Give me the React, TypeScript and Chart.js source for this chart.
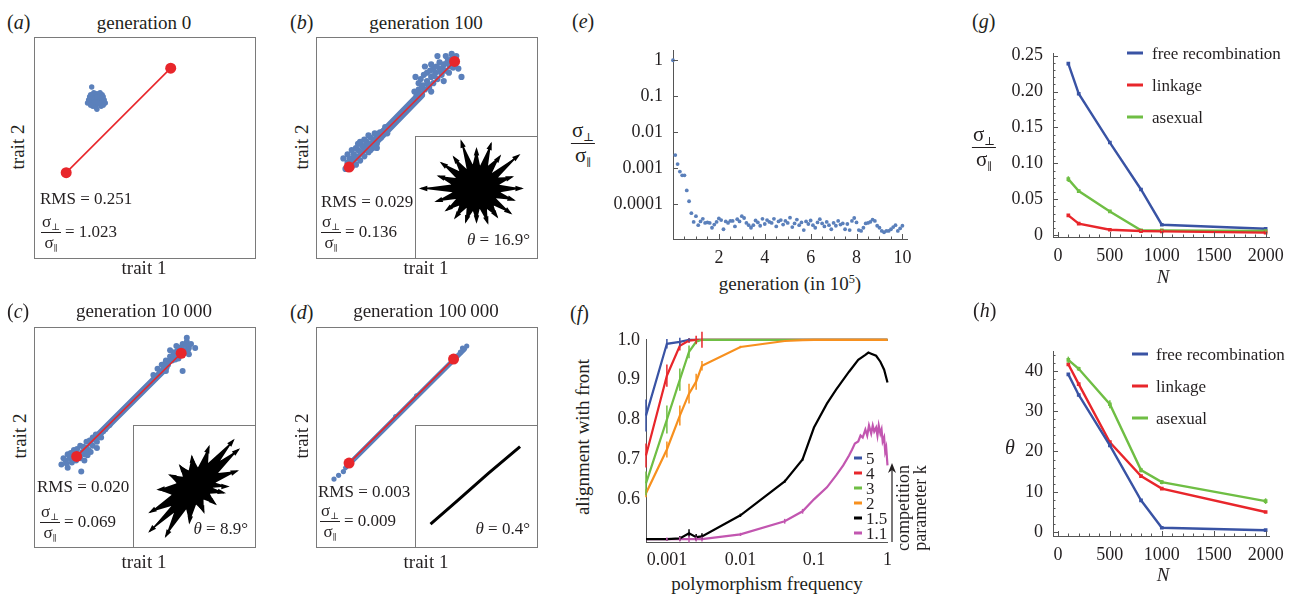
import React, { useEffect, useRef } from "react";
import { Chart, registerables } from "chart.js";
Chart.register(...registerables);

const SERIF = "'Liberation Serif', 'Times New Roman', 'DejaVu Serif', serif";
const INK = "#231f20";
const DOT_BLUE = "#5b80bb";
const RED = "#e8262b";
const BLUE = "#3953a4";
const GREEN = "#6fbe44";
const ORANGE = "#f7901e";
const BLACK = "#000000";
const MAGENTA = "#c256b0";

// ---------- panels a-d (trait space) ----------
const redA = [[0.123, 0.382], [0.623, 0.882]];
const cloudA = [[0.268,0.727],[0.25,0.73],[0.285,0.73],[0.26,0.71],[0.28,0.71],[0.255,0.745],[0.28,0.745],[0.24,0.72],[0.295,0.72],[0.245,0.74],[0.29,0.74],[0.27,0.76],[0.265,0.695],[0.23,0.73],[0.305,0.73],[0.25,0.70],[0.29,0.70],[0.24,0.755],[0.295,0.755],[0.27,0.745],[0.26,0.72],[0.275,0.715],[0.225,0.715],[0.31,0.715],[0.255,0.765],[0.285,0.765],[0.27,0.685],[0.235,0.745],[0.30,0.745],[0.24,0.705],[0.30,0.705],[0.245,0.792]];

const redB = [[0.127, 0.409], [0.632, 0.914]];
const bandB = [[0.25, 0.53], [0.47, 0.755]];
const cloudB = [[0.11,0.40],[0.12,0.43],[0.14,0.41],[0.13,0.45],[0.15,0.44],[0.16,0.42],[0.15,0.47],[0.17,0.46],[0.18,0.44],[0.17,0.49],[0.19,0.48],[0.20,0.46],[0.19,0.51],[0.21,0.50],[0.22,0.48],[0.21,0.53],[0.23,0.52],[0.24,0.50],[0.23,0.55],[0.25,0.54],[0.26,0.52],[0.25,0.57],[0.27,0.56],[0.28,0.55],[0.14,0.49],[0.12,0.47],[0.29,0.58],[0.20,0.54],[0.17,0.52],[0.26,0.50],[0.10,0.45],[0.31,0.57],[0.155,0.455],[0.185,0.475],[0.215,0.515],[0.245,0.525],[0.275,0.575],[0.16,0.50],[0.20,0.49],[0.23,0.49],[0.18,0.53],[0.22,0.56],[0.135,0.43],[0.30,0.60],[0.32,0.60],
  [0.45,0.75],[0.46,0.78],[0.47,0.76],[0.48,0.80],[0.49,0.78],[0.50,0.82],[0.51,0.79],[0.52,0.84],[0.53,0.81],[0.54,0.86],[0.55,0.83],[0.56,0.88],[0.57,0.85],[0.58,0.90],[0.59,0.87],[0.60,0.92],[0.61,0.89],[0.62,0.93],[0.63,0.90],[0.50,0.86],[0.53,0.88],[0.56,0.91],[0.47,0.83],[0.59,0.94],[0.64,0.94],[0.52,0.77],[0.58,0.82],[0.445,0.84],[0.618,0.95],[0.665,0.84],[0.65,0.88],[0.55,0.94],[0.49,0.89],[0.485,0.85],[0.515,0.87],[0.545,0.89],[0.575,0.88],[0.605,0.86],[0.535,0.845],[0.565,0.865],[0.595,0.905],[0.505,0.805],[0.475,0.79],[0.625,0.885],[0.52,0.90],[0.46,0.81],[0.44,0.77]];

const redC = [[0.173, 0.409], [0.673, 0.905]];
const bandC = [[0.27, 0.505], [0.60, 0.835]];
const cloudC = [[0.10,0.37],[0.13,0.355],[0.195,0.336],[0.12,0.39],[0.14,0.40],[0.15,0.38],[0.16,0.41],[0.17,0.39],[0.18,0.42],[0.19,0.40],[0.20,0.43],[0.21,0.42],[0.22,0.45],[0.23,0.44],[0.24,0.47],[0.25,0.46],[0.26,0.49],[0.27,0.48],[0.28,0.51],[0.29,0.50],[0.30,0.53],[0.16,0.44],[0.19,0.46],[0.22,0.48],[0.25,0.50],[0.13,0.42],[0.21,0.39],[0.24,0.43],[0.27,0.45],[0.11,0.40],[0.145,0.425],[0.175,0.445],[0.205,0.455],[0.235,0.485],[0.185,0.405],[0.215,0.435],[0.155,0.395],[0.265,0.515],[0.225,0.415],[0.125,0.375],[0.31,0.54],[0.33,0.56],
  [0.56,0.83],[0.57,0.81],[0.58,0.85],[0.59,0.83],[0.60,0.87],[0.61,0.85],[0.62,0.89],[0.63,0.87],[0.64,0.91],[0.65,0.89],[0.66,0.93],[0.67,0.91],[0.68,0.95],[0.69,0.92],[0.70,0.96],[0.71,0.93],[0.62,0.92],[0.65,0.94],[0.68,0.82],[0.71,0.90],[0.72,0.95],[0.60,0.82],[0.66,0.88],[0.70,0.98],[0.74,0.93],[0.635,0.895],[0.655,0.915],[0.675,0.935],[0.695,0.945],[0.615,0.865],[0.595,0.855],[0.645,0.875],[0.685,0.905],[0.705,0.92],[0.54,0.80],[0.55,0.785]];

const redD = [[0.127, 0.377], [0.627, 0.877]];
const bandD = [[0.11, 0.355], [0.40, 0.645], [0.68, 0.925]];
const cloudD = [[0.055,0.30],[0.077,0.318],[0.10,0.336],[0.64,0.89],[0.66,0.91],[0.67,0.93],[0.69,0.94],[0.35,0.60],[0.45,0.70]];

// inset arrow bursts (tips of the selection-gradient arrows)
const burstCenterB = [0.0, 0.15];
const burstB = [[0.75,0.15],[0.375,0.21],[0.59,0.34],[0.356,0.33],[0.70,0.70],[0.255,0.405],[0.388,0.684],[0.19,0.524],[0.241,0.892],[0.059,0.525],[0.0,0.80],[-0.063,0.545],[-0.253,0.93],[-0.163,0.471],[-0.376,0.668],[-0.283,0.433],[-0.582,0.573],[-0.339,0.323],[-0.628,0.354],[-0.415,0.216],[-0.92,0.15],[-0.395,0.087],[-0.666,-0.066],[-0.339,-0.023],[-0.502,-0.214],[-0.283,-0.133],[-0.353,-0.335],[-0.163,-0.171],[-0.179,-0.402],[-0.059,-0.225],[0.0,-0.40],[0.053,-0.186],[0.185,-0.421],[0.173,-0.189],[0.341,-0.319],[0.283,-0.133],[0.566,-0.261],[0.321,-0.013],[0.62,-0.042],[0.395,0.087]];
const burstCenterC = [0.0, 0.0];
const burstC = [[0.55,0.0],[0.345,0.061],[0.705,0.257],[0.39,0.225],[0.728,0.611],[0.424,0.424],[0.643,0.766],[0.225,0.39],[0.239,0.658],[0.056,0.315],[-0.044,0.498],[-0.096,0.263],[-0.241,0.344],[-0.192,0.161],[-0.408,0.19],[-0.295,0.052],[-0.598,-0.052],[-0.376,-0.137],[-0.736,-0.425],[-0.383,-0.321],[-0.742,-0.742],[-0.339,-0.433],[-0.475,-0.823],[-0.137,-0.376],[-0.084,-0.594],[0.026,-0.299],[0.154,-0.423],[0.149,-0.213],[0.345,-0.289],[0.254,-0.118],[0.489,-0.104],[0.299,-0.021]];
const lineD = [[-0.76, -0.62], [-0.3, -0.22], [0.2, 0.22], [0.72, 0.66]];

// ---------- panel e ----------
const genE = [0,0.1,0.2,0.3,0.4,0.5,0.6,0.7,0.8,0.9,1.0,1.1,1.2,1.3,1.4,1.5,1.6,1.7,1.8,1.9,2.0,2.1,2.2,2.3,2.4,2.5,2.6,2.7,2.8,2.9,3.0,3.1,3.2,3.3,3.4,3.5,3.6,3.7,3.8,3.9,4.0,4.1,4.2,4.3,4.4,4.5,4.6,4.7,4.8,4.9,5.0,5.1,5.2,5.3,5.4,5.5,5.6,5.7,5.8,5.9,6.0,6.1,6.2,6.3,6.4,6.5,6.6,6.7,6.8,6.9,7.0,7.1,7.2,7.3,7.4,7.5,7.6,7.7,7.8,7.9,8.0,8.1,8.2,8.3,8.4,8.5,8.6,8.7,8.8,8.9,9.0,9.1,9.2,9.3,9.4,9.5,9.6,9.7,9.8,9.9,10.0];
const ratioE = [1,2.3e-3,1.3e-3,8.0e-4,6.3e-4,6.3e-4,2.4e-4,1.2e-4,5.6e-5,3.2e-5,4.6e-5,2.6e-5,3.3e-5,3.9e-5,3.0e-5,3.1e-5,3.0e-5,2.2e-5,2.7e-5,3.2e-5,4.0e-5,3.6e-5,2.0e-5,3.3e-5,3.0e-5,3.4e-5,3.4e-5,2.4e-5,3.8e-5,3.3e-5,4.6e-5,4.1e-5,3.0e-5,2.6e-5,2.2e-5,2.6e-5,3.5e-5,3.1e-5,2.5e-5,3.9e-5,2.8e-5,3.6e-5,3.2e-5,3.0e-5,3.9e-5,2.4e-5,3.3e-5,3.6e-5,2.7e-5,3.4e-5,3.0e-5,4.2e-5,2.3e-5,2.9e-5,3.7e-5,2.6e-5,3.1e-5,1.9e-5,3.3e-5,2.8e-5,3.5e-5,2.6e-5,2.2e-5,3.1e-5,3.8e-5,2.9e-5,2.4e-5,3.2e-5,2.6e-5,2.0e-5,3.0e-5,2.5e-5,3.4e-5,2.7e-5,2.9e-5,2.0e-5,2.8e-5,1.9e-5,3.4e-5,4.1e-5,3.1e-5,1.9e-5,1.8e-5,2.2e-5,2.9e-5,3.0e-5,3.2e-5,3.7e-5,3.4e-5,2.5e-5,2.2e-5,1.8e-5,1.65e-5,1.8e-5,1.8e-5,2.0e-5,2.3e-5,2.6e-5,1.8e-5,2.1e-5,2.5e-5];
const yTicksE = [1, 0.1, 0.01, 0.001, 0.0001];
const yLabelsE = ["1", "0.1", "0.01", "0.001", "0.0001"];
const xTicksE = [2, 4, 6, 8, 10];
const xLabelsE = ["2", "4", "6", "8", "10"];
const xMinorE = [0.5, 1, 1.5, 2.5, 3, 3.5, 4.5, 5, 5.5, 6.5, 7, 7.5, 8.5, 9, 9.5];

// ---------- panel f ----------
const freqF = [0.00052, 0.001, 0.0015, 0.002, 0.0025, 0.003, 0.01, 0.04, 0.07, 0.1, 0.2, 0.3, 0.5, 0.7, 1];
const k5 = [0.81, 0.99, 0.995, 1.0, 1.0, 1.0, 1.0, 1.0, 1.0, 1.0, 1.0, 1.0, 1.0, 1.0, 1.0];
const k5err = [0.04, 0.012, 0.01, 0.004, 0, 0, 0, 0, 0, 0, 0, 0, 0, 0, 0];
const k4 = [0.71, 0.91, 0.985, 0.998, 1.0, 1.0, 1.0, 1.0, 1.0, 1.0, 1.0, 1.0, 1.0, 1.0, 1.0];
const k4err = [0.03, 0.028, 0.012, 0.006, 0.01, 0.02, 0, 0, 0, 0, 0, 0, 0, 0, 0];
const k3 = [0.64, 0.80, 0.90, 0.97, 0.995, 1.0, 1.0, 1.0, 1.0, 1.0, 1.0, 1.0, 1.0, 1.0, 1.0];
const k3err = [0.03, 0.035, 0.028, 0.016, 0.006, 0, 0, 0, 0, 0, 0, 0, 0, 0, 0];
const k2 = [0.615, 0.725, 0.81, 0.865, 0.895, 0.935, 0.982, 0.997, 0.999, 1.0, 1.0, 1.0, 1.0, 1.0, 1.0];
const k2err = [0.01, 0.02, 0.025, 0.025, 0.02, 0.012, 0.003, 0.002, 0, 0, 0, 0, 0, 0, 0];
const freqBlack = [0.00052, 0.001, 0.0015, 0.002, 0.0025, 0.003, 0.01, 0.04, 0.07, 0.1, 0.15, 0.2, 0.3, 0.4, 0.5, 0.55, 0.6, 0.7, 0.8, 0.9, 1];
const k15 = [0.50, 0.50, 0.502, 0.515, 0.505, 0.507, 0.56, 0.645, 0.70, 0.78, 0.84, 0.875, 0.92, 0.95, 0.962, 0.968, 0.965, 0.96, 0.945, 0.925, 0.893];
const k15err = [0, 0.003, 0.006, 0.01, 0.008, 0.008, 0.004, 0.004, 0.004, 0, 0, 0, 0, 0, 0, 0, 0, 0, 0, 0, 0];
const freqMag = [0.00052, 0.001, 0.0015, 0.002, 0.0025, 0.003, 0.01, 0.04, 0.07, 0.1, 0.15, 0.2, 0.25, 0.3, 0.33, 0.36, 0.4, 0.43, 0.46, 0.5, 0.53, 0.56, 0.6, 0.63, 0.66, 0.7, 0.73, 0.76, 0.8, 0.83, 0.86, 0.9, 0.93, 0.96, 1.0];
const k11 = [0.50, 0.50, 0.50, 0.50, 0.50, 0.50, 0.512, 0.545, 0.57, 0.60, 0.63, 0.66, 0.685, 0.71, 0.725, 0.74, 0.745, 0.76, 0.755, 0.775, 0.76, 0.785, 0.765, 0.785, 0.77, 0.78, 0.76, 0.785, 0.765, 0.775, 0.745, 0.755, 0.72, 0.73, 0.685];
const k11err = [0, 0.004, 0.006, 0.008, 0.006, 0.006, 0.004, 0.006, 0.006, 0, 0, 0, 0, 0, 0, 0, 0, 0, 0, 0, 0, 0, 0, 0, 0, 0, 0, 0, 0, 0, 0, 0, 0, 0, 0];
const legendLabelsF = ["5", "4", "3", "2", "1.5", "1.1"];
const xTicksF = [0.001, 0.01, 0.1, 1];
const xLabelsF = ["0.001", "0.01", "0.1", "1"];
const yTicksF = [0.6, 0.7, 0.8, 0.9, 1.0];
const yLabelsF = ["0.6", "0.7", "0.8", "0.9", "1.0"];

// ---------- panels g, h ----------
const popN = [100, 200, 500, 800, 1000, 2000];
const gFree = [0.239, 0.197, 0.129, 0.0636, 0.0145, 0.0088];
const gLink = [0.0276, 0.016, 0.0075, 0.0057, 0.0053, 0.0035];
const gAsex = [0.078, 0.0614, 0.033, 0.0066, 0.0066, 0.0057];
const gAsexErr = [0.004, 0.002, 0.0015, 0.001, 0.001, 0.001];
const hFree = [39.1, 34.0, 21.5, 7.9, 1.1, 0.5];
const hLink = [41.6, 36.7, 22.3, 13.9, 10.8, 5.0];
const hAsex = [42.7, 40.5, 31.7, 15.4, 12.4, 7.7];
const hAsexErr = [0.8, 0.5, 1.0, 0.6, 0.5, 0.7];
const legendGH = ["free recombination", "linkage", "asexual"];
const xTicksN = [0, 500, 1000, 1500, 2000];
const xLabelsN = ["0", "500", "1000", "1500", "2000"];
const xMinorN = [100, 200, 300, 400, 600, 700, 800, 900, 1100, 1200, 1300, 1400, 1600, 1700, 1800, 1900];
const yTicksG = [0, 0.05, 0.1, 0.15, 0.2, 0.25];
const yLabelsG = ["0", "0.05", "0.10", "0.15", "0.20", "0.25"];
const yMinorG = [0.01, 0.02, 0.03, 0.04, 0.06, 0.07, 0.08, 0.09, 0.11, 0.12, 0.13, 0.14, 0.16, 0.17, 0.18, 0.19, 0.21, 0.22, 0.23, 0.24];
const yTicksH = [0, 10, 20, 30, 40];
const yLabelsH = ["0", "10", "20", "30", "40"];
const yMinorH = [2, 4, 6, 8, 12, 14, 16, 18, 22, 24, 26, 28, 32, 34, 36, 38, 42, 44];

// ---------- helpers ----------
const toXY = (p: number[]) => ({ x: p[0], y: p[1] });
const zipXY = (xs: number[], ys: number[]) => xs.map((x, i) => ({ x, y: ys[i] }));

const extrasPlugin = {
  id: "extras",
  beforeDatasetsDraw(chart: any) {
    const ctx = chart.ctx;
    const xs = chart.scales.x, ys = chart.scales.y;
    chart.data.datasets.forEach((ds: any) => {
      if (!ds.burst) return;
      const pts = ds.data.map((p: any) => [xs.getPixelForValue(p.x), ys.getPixelForValue(p.y)]);
      const cx = xs.getPixelForValue(ds.burst[0]);
      const cy = ys.getPixelForValue(ds.burst[1]);
      ctx.save();
      ctx.fillStyle = "#000";
      ctx.strokeStyle = "#000";
      ctx.beginPath();
      pts.forEach((p: number[], i: number) => (i ? ctx.lineTo(p[0], p[1]) : ctx.moveTo(p[0], p[1])));
      ctx.closePath();
      ctx.fill();
      ctx.lineWidth = 1.2;
      const n = pts.length;
      pts.forEach((p: number[], i: number) => {
        ctx.beginPath();
        ctx.moveTo(cx, cy);
        ctx.lineTo(p[0], p[1]);
        ctx.stroke();
        const d = Math.hypot(p[0] - cx, p[1] - cy);
        const a = pts[(i - 1 + n) % n], b = pts[(i + 1) % n];
        if (d > Math.hypot(a[0] - cx, a[1] - cy) && d > Math.hypot(b[0] - cx, b[1] - cy)) {
          const ang = Math.atan2(p[1] - cy, p[0] - cx);
          const L = 7, W = 0.4;
          ctx.beginPath();
          ctx.moveTo(p[0] + Math.cos(ang) * 2, p[1] + Math.sin(ang) * 2);
          ctx.lineTo(p[0] - L * Math.cos(ang - W), p[1] - L * Math.sin(ang - W));
          ctx.lineTo(p[0] - L * Math.cos(ang + W), p[1] - L * Math.sin(ang + W));
          ctx.closePath();
          ctx.fill();
        }
      });
      ctx.restore();
    });
  },
  afterDatasetsDraw(chart: any) {
    const ctx = chart.ctx;
    const ys = chart.scales.y;
    chart.data.datasets.forEach((ds: any, i: number) => {
      if (!ds.errors) return;
      const meta = chart.getDatasetMeta(i);
      ctx.save();
      ctx.strokeStyle = ds.borderColor;
      ctx.lineWidth = 1.5;
      meta.data.forEach((el: any, j: number) => {
        const e = ds.errors[j];
        if (!e) return;
        const v = ds.data[j].y;
        ctx.beginPath();
        ctx.moveTo(el.x, ys.getPixelForValue(v - e));
        ctx.lineTo(el.x, ys.getPixelForValue(v + e));
        ctx.stroke();
      });
      ctx.restore();
    });
  },
};

// small inward tick marks (Mathematica style)
const innerTicksPlugin = {
  id: "innerTicks",
  afterDraw(chart: any, _args: any, opts: any) {
    if (!opts || !opts.x) return;
    const ctx = chart.ctx;
    const a = chart.chartArea;
    const xs = chart.scales.x, ys = chart.scales.y;
    ctx.save();
    ctx.strokeStyle = "#555";
    ctx.lineWidth = 1;
    const mark = (vals: number[], len: number, isX: boolean) => {
      (vals || []).forEach((v) => {
        ctx.beginPath();
        if (isX) {
          const x = Math.round(xs.getPixelForValue(v)) + 0.5;
          ctx.moveTo(x, a.bottom);
          ctx.lineTo(x, a.bottom - len);
        } else {
          const y = Math.round(ys.getPixelForValue(v)) + 0.5;
          ctx.moveTo(a.left, y);
          ctx.lineTo(a.left + len, y);
        }
        ctx.stroke();
      });
    };
    mark(opts.x.major, 5, true);
    mark(opts.x.minor, 2.5, true);
    mark(opts.y.major, 5, false);
    mark(opts.y.minor, 2.5, false);
    ctx.restore();
  },
};

const baseOptions = (scales: any, padding: any = 0, ticksOpt: any = null) => ({
  responsive: false,
  maintainAspectRatio: false,
  animation: false,
  events: [],
  layout: { padding },
  plugins: { legend: { display: false }, tooltip: { enabled: false }, title: { display: false }, innerTicks: ticksOpt || {} },
  scales,
});

const hiddenScales = (lo: number, hi: number) => ({
  x: { type: "linear", min: lo, max: hi, display: false },
  y: { type: "linear", min: lo, max: hi, display: false },
});

function axis(o: any) {
  return {
    type: o.type || "linear",
    position: o.position,
    min: o.min,
    max: o.max,
    grid: { display: false, drawTicks: false },
    border: { display: true, color: "#555", width: 1 },
    ticks: {
      autoSkip: false,
      maxRotation: 0,
      minRotation: 0,
      padding: o.padding,
      color: INK,
      font: { family: SERIF, size: 18 },
      callback: (_v: any, i: number) => o.labels[i],
    },
    afterBuildTicks: (s: any) => {
      s.ticks = o.ticks.map((v: number) => ({ value: v }));
    },
    afterFit: (s: any) => {
      if (o.position === "bottom") s.height = o.fit;
      else s.width = o.fit;
    },
  };
}

function scatterPanel(cloud: number[][], band: number[][] | null, bandWidth: number, red: number[][], dotR: number) {
  const datasets: any[] = [
    { data: red.map(toXY), showLine: true, borderColor: RED, borderWidth: 1.6, pointRadius: 5.5, pointBackgroundColor: RED, pointBorderWidth: 0, order: 0 },
    { data: cloud.map(toXY), pointRadius: dotR, pointBackgroundColor: DOT_BLUE, pointBorderWidth: 0, order: 1 },
  ];
  if (band) datasets.push({ data: band.map(toXY), showLine: true, borderColor: DOT_BLUE, borderWidth: bandWidth, borderCapStyle: "round", pointRadius: 0, order: 2 });
  return { type: "scatter", data: { datasets }, options: baseOptions(hiddenScales(0, 1)) };
}

function burstPanel(pts: number[][], center: number[]) {
  return {
    type: "scatter",
    data: { datasets: [{ data: pts.map(toXY), burst: center, pointRadius: 0 }] },
    options: baseOptions(hiddenScales(-1, 1)),
    plugins: [extrasPlugin],
  };
}

function linePanelD() {
  return {
    type: "scatter",
    data: { datasets: [{ data: lineD.map(toXY), showLine: true, borderColor: "#000", borderWidth: 3, pointRadius: 0 }] },
    options: baseOptions(hiddenScales(-1, 1)),
  };
}

function panelE() {
  return {
    type: "scatter",
    data: { datasets: [{ data: zipXY(genE, ratioE), pointRadius: 1.9, pointBackgroundColor: DOT_BLUE, pointBorderWidth: 0, clip: 6 }] },
    options: baseOptions(
      {
        x: axis({ position: "bottom", min: 0, max: 10.2, ticks: xTicksE, labels: xLabelsE, fit: 30, padding: 8 }),
        y: axis({ type: "logarithmic", position: "left", min: 1.07e-5, max: 1.83, ticks: yTicksE, labels: yLabelsE, fit: 73, padding: 10 }),
      },
      { top: 10, right: 15, left: 0, bottom: 0 },
      { x: { major: xTicksE, minor: xMinorE }, y: { major: yTicksE, minor: [] } }
    ),
    plugins: [innerTicksPlugin],
  };
}

function lineDs(xs: number[], ys: number[], color: string, errors: number[] | null, order: number) {
  return { data: zipXY(xs, ys), showLine: true, borderColor: color, backgroundColor: color, borderWidth: 2.2, pointRadius: 0, errors, order, clip: 8 };
}

function panelF() {
  return {
    type: "scatter",
    data: {
      datasets: [
        lineDs(freqF, k2, ORANGE, k2err, 0),
        lineDs(freqF, k3, GREEN, k3err, 1),
        lineDs(freqF, k4, RED, k4err, 2),
        lineDs(freqF, k5, BLUE, k5err, 3),
        lineDs(freqBlack, k15, BLACK, k15err, 4),
        lineDs(freqMag, k11, MAGENTA, k11err, 5),
      ],
    },
    options: baseOptions(
      {
        x: axis({ type: "logarithmic", position: "bottom", min: 0.00052, max: 1, ticks: xTicksF, labels: xLabelsF, fit: 30, padding: 7 }),
        y: axis({ position: "left", min: 0.493, max: 1.0, ticks: yTicksF, labels: yLabelsF, fit: 46, padding: 6 }),
      },
      { top: 10, right: 10, left: 0, bottom: 0 }
    ),
    plugins: [extrasPlugin],
  };
}

function nDs(ys: number[], color: string, errors: number[] | null, order: number) {
  return { data: zipXY(popN, ys), showLine: true, borderColor: color, backgroundColor: color, borderWidth: 2.4, pointRadius: 2.6, pointStyle: "rect", pointBackgroundColor: color, pointBorderWidth: 0, errors, order, clip: 8 };
}

function panelG() {
  return {
    type: "scatter",
    data: { datasets: [nDs(gLink, RED, null, 0), nDs(gAsex, GREEN, gAsexErr, 1), nDs(gFree, BLUE, null, 2)] },
    options: baseOptions(
      {
        x: axis({ position: "bottom", min: -47.6, max: 2038, ticks: xTicksN, labels: xLabelsN, fit: 40, padding: 8 }),
        y: axis({ position: "left", min: -0.0026, max: 0.2526, ticks: yTicksG, labels: yLabelsG, fit: 63, padding: 10 }),
      },
      { top: 10, right: 20, left: 0, bottom: 0 },
      { x: { major: xTicksN, minor: xMinorN }, y: { major: yTicksG, minor: yMinorG } }
    ),
    plugins: [extrasPlugin, innerTicksPlugin],
  };
}

function panelH() {
  return {
    type: "scatter",
    data: { datasets: [nDs(hFree, BLUE, null, 0), nDs(hLink, RED, null, 1), nDs(hAsex, GREEN, hAsexErr, 2)] },
    options: baseOptions(
      {
        x: axis({ position: "bottom", min: -47.6, max: 2038, ticks: xTicksN, labels: xLabelsN, fit: 40, padding: 8 }),
        y: axis({ position: "left", min: -0.94, max: 44.7, ticks: yTicksH, labels: yLabelsH, fit: 63, padding: 10 }),
      },
      { top: 10, right: 20, left: 0, bottom: 0 },
      { x: { major: xTicksN, minor: xMinorN }, y: { major: yTicksH, minor: yMinorH } }
    ),
    plugins: [extrasPlugin, innerTicksPlugin],
  };
}

// ---------- components ----------
function ChartBox({ left, top, width, height, make, border }: any) {
  const ref = useRef<HTMLCanvasElement>(null);
  useEffect(() => {
    const chart = new Chart(ref.current as any, make());
    return () => chart.destroy();
  }, []);
  return (
    <div style={{ position: "absolute", left, top, width, height, border: border ? "1.5px solid #7a7a7a" : "none", background: border ? "#fff" : "transparent", boxSizing: "content-box" }}>
      <canvas ref={ref} width={width} height={height} style={{ width, height, display: "block" }} />
    </div>
  );
}

function T({ x, y, size = 18, align = "center", rotate = false, italic = false, children }: any) {
  const tx = align === "center" ? "-50%" : align === "right" ? "-100%" : "0";
  const transform = rotate ? "translate(-50%,-50%) rotate(-90deg)" : `translate(${tx},-50%)`;
  return (
    <div style={{ position: "absolute", left: x, top: y, transform, fontFamily: SERIF, fontSize: size, fontStyle: italic ? "italic" : "normal", whiteSpace: "nowrap", lineHeight: 1.1, color: INK }}>
      {children}
    </div>
  );
}

function Frac({ size = 17 }: any) {
  return (
    <span style={{ display: "inline-flex", flexDirection: "column", alignItems: "center", verticalAlign: "middle", lineHeight: 1, fontSize: size }}>
      <span style={{ padding: "0 1px" }}>
        σ<span style={{ fontSize: "0.55em", position: "relative", top: "0.35em" }}>⊥</span>
      </span>
      <span style={{ borderTop: "1px solid " + INK, width: "100%", margin: "2px 0 1px" }} />
      <span style={{ padding: "0 1px" }}>
        σ<span style={{ fontSize: "0.5em", position: "relative", top: "0.4em" }}>∥</span>
      </span>
    </span>
  );
}

function FracRow({ x, y, value }: any) {
  return (
    <div style={{ position: "absolute", left: x, top: y, transform: "translateY(-50%)", display: "flex", alignItems: "center", fontFamily: SERIF, fontSize: 17, color: INK, whiteSpace: "nowrap" }}>
      <Frac size={17} />
      <span style={{ marginLeft: 4 }}>= {value}</span>
    </div>
  );
}

function Label({ x, y, letter }: any) {
  return (
    <T x={x} y={y} size={20} align="left">
      (<i>{letter}</i>)
    </T>
  );
}

function Theta({ x, y, value }: any) {
  return (
    <T x={x} y={y} size={17} align="right">
      <i>θ</i> = {value}°
    </T>
  );
}

function Legend({ x, y, gap, labels, colors, lineW, size, lineGap }: any) {
  return (
    <>
      {labels.map((lab: string, i: number) => (
        <div key={i} style={{ position: "absolute", left: x, top: y + i * gap, transform: "translateY(-50%)", display: "flex", alignItems: "center", fontFamily: SERIF, fontSize: size, color: INK, whiteSpace: "nowrap", lineHeight: 1 }}>
          <span style={{ display: "inline-block", width: lineW, height: 3, background: colors[i], marginRight: lineGap }} />
          <span>{lab}</span>
        </div>
      ))}
    </>
  );
}

export default function App() {
  return (
    <div style={{ position: "absolute", left: 0, top: 0, width: 1298, height: 596, background: "#fff", overflow: "hidden" }}>
      {/* (a) */}
      <Label x={7} y={22} letter="a" />
      <T x={144} y={23} size={19}>generation 0</T>
      <ChartBox left={34} top={37} width={220} height={220} border make={() => scatterPanel(cloudA, null, 0, redA, 2.7)} />
      <T x={18} y={147} size={19} rotate>trait 2</T>
      <T x={144} y={268} size={19}>trait 1</T>
      <T x={40} y={199} size={17} align="left">RMS = 0.251</T>
      <FracRow x={41} y={232} value="1.023" />

      {/* (b) */}
      <Label x={290} y={22} letter="b" />
      <T x={426} y={23} size={19}>generation 100</T>
      <ChartBox left={316} top={37} width={220} height={220} border make={() => scatterPanel(cloudB, bandB, 9, redB, 3.1)} />
      <ChartBox left={415} top={136} width={121} height={121} border make={() => burstPanel(burstB, burstCenterB)} />
      <Theta x={530} y={240} value="16.9" />
      <T x={302} y={147} size={19} rotate>trait 2</T>
      <T x={426} y={268} size={19}>trait 1</T>
      <T x={321} y={202} size={17} align="left">RMS = 0.029</T>
      <FracRow x={321} y={232} value="0.136" />

      {/* (c) */}
      <Label x={7} y={311} letter="c" />
      <T x={144} y={311} size={19}>generation 10&#8201;000</T>
      <ChartBox left={34} top={327} width={220} height={219} border make={() => scatterPanel(cloudC, bandC, 7, redC, 3.0)} />
      <ChartBox left={133} top={425} width={121} height={121} border make={() => burstPanel(burstC, burstCenterC)} />
      <Theta x={248} y={529} value="8.9" />
      <T x={20} y={436} size={19} rotate>trait 2</T>
      <T x={144} y={562} size={19}>trait 1</T>
      <T x={37} y={487} size={17} align="left">RMS = 0.020</T>
      <FracRow x={40} y={522} value="0.069" />

      {/* (d) */}
      <Label x={290} y={312} letter="d" />
      <T x={426} y={311} size={19}>generation 100&#8201;000</T>
      <ChartBox left={316} top={327} width={220} height={219} border make={() => scatterPanel(cloudD, bandD, 5, redD, 2.6)} />
      <ChartBox left={415} top={425} width={121} height={121} border make={linePanelD} />
      <Theta x={530} y={529} value="0.4" />
      <T x={302} y={436} size={19} rotate>trait 2</T>
      <T x={426} y={562} size={19}>trait 1</T>
      <T x={318} y={492} size={17} align="left">RMS = 0.003</T>
      <FracRow x={320} y={521} value="0.009" />

      {/* (e) */}
      <Label x={572} y={21} letter="e" />
      <ChartBox left={600} top={30} width={322} height={239} make={panelE} />
      <div style={{ position: "absolute", left: 583, top: 143, transform: "translate(-50%,-50%)", fontFamily: SERIF, color: INK }}>
        <Frac size={21} />
      </div>
      <T x={790} y={284} size={19}>
        generation (in 10<sup style={{ fontSize: "0.65em" }}>5</sup>)
      </T>

      {/* (f) */}
      <Label x={570} y={313} letter="f" />
      <ChartBox left={600} top={323} width={299} height={249} make={panelF} />
      <T x={583} y={437} size={19} rotate>alignment with front</T>
      <T x={767} y={584} size={19}>polymorphism frequency</T>
      <Legend x={854} y={458} gap={15} labels={legendLabelsF} colors={[BLUE, RED, GREEN, ORANGE, BLACK, MAGENTA]} lineW={8} size={17} lineGap={4} />
      <svg style={{ position: "absolute", left: 887, top: 463 }} width={10} height={80}>
        <line x1={5} y1={6} x2={5} y2={79} stroke={INK} strokeWidth={1.2} />
        <path d="M1,10 L5,0 L9,10 L5,7 Z" fill={INK} />
      </svg>
      <div style={{ position: "absolute", left: 912, top: 508, transform: "translate(-50%,-50%) rotate(-90deg)", fontFamily: SERIF, fontSize: 18, lineHeight: 0.95, color: INK, whiteSpace: "nowrap", textAlign: "center" }}>
        competition
        <br />
        parameter k
      </div>

      {/* (g) */}
      <Label x={972} y={21} letter="g" />
      <ChartBox left={990} top={33} width={302} height={244} make={panelG} />
      <div style={{ position: "absolute", left: 984, top: 147, transform: "translate(-50%,-50%)", fontFamily: SERIF, color: INK }}>
        <Frac size={21} />
      </div>
      <T x={1163} y={277} size={19} italic>N</T>
      <Legend x={1127} y={53} gap={32} labels={legendGH} colors={[BLUE, RED, GREEN]} lineW={16} size={17} lineGap={9} />

      {/* (h) */}
      <Label x={973} y={310} letter="h" />
      <ChartBox left={990} top={331} width={302} height={245} make={panelH} />
      <T x={1010} y={447} size={20} italic>θ</T>
      <T x={1163} y={575} size={19} italic>N</T>
      <Legend x={1132} y={354} gap={32} labels={legendGH} colors={[BLUE, RED, GREEN]} lineW={16} size={17} lineGap={8} />
    </div>
  );
}
